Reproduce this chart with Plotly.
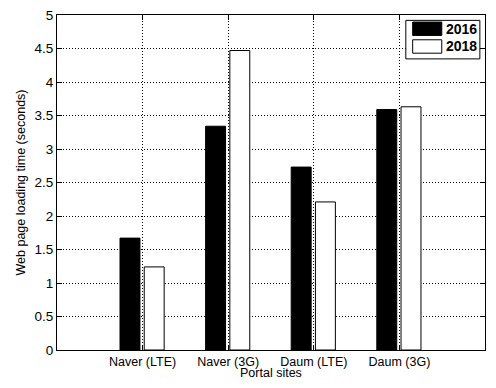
import plotly.graph_objects as go

sites = ["Naver (LTE)", "Naver (3G)", "Daum (LTE)", "Daum (3G)"]
years = ["2016", "2018"]
load_2016 = [1.67, 3.34, 2.73, 3.59]
load_2018 = [1.24, 4.47, 2.21, 3.63]
y_ticks = [0, 0.5, 1, 1.5, 2, 2.5, 3, 3.5, 4, 4.5, 5]

pos = list(range(1, len(sites) + 1))
font = "Liberation Sans, Arial, sans-serif"

fig = go.Figure()
fig.add_trace(go.Bar(x=pos, y=load_2016, name=years[0], width=0.233, offset=-0.264,
                     marker=dict(color="black", line=dict(color="black", width=1)),
                     showlegend=False))
fig.add_trace(go.Bar(x=pos, y=load_2018, name=years[1], width=0.233, offset=0.019,
                     marker=dict(color="white", line=dict(color="black", width=1)),
                     showlegend=False))

# legend drawn by hand so the swatches are wide like the original
fig.add_shape(type="rect", xref="paper", yref="paper", x0=0.815, x1=0.988, y0=0.869, y1=0.984,
              line=dict(color="black", width=1), fillcolor="white", layer="above")
sw = [(0.979, 0.939, "black"), (0.926, 0.886, "white")]
for (ya, yb, c), name in zip(sw, years):
    fig.add_shape(type="rect", xref="paper", yref="paper", x0=0.831, x1=0.899, y0=yb, y1=ya,
                  line=dict(color="black", width=1), fillcolor=c, layer="above")
    fig.add_annotation(xref="paper", yref="paper", x=0.904, y=(ya + yb) / 2, text="<b>" + name + "</b>",
                       showarrow=False, xanchor="left", yanchor="middle",
                       font=dict(family=font, size=14, color="black"))

# x title as annotation so it can sit right at the bottom edge
fig.add_annotation(xref="paper", yref="paper", x=0.5, y=-0.094, text="Portal sites",
                   showarrow=False, xanchor="center", yanchor="bottom", borderpad=0,
                   font=dict(family=font, size=12.5, color="black"))

# page body has an 8px margin, so the figure is a bit smaller than the window
fig.update_layout(
    width=480, height=372,
    margin=dict(l=49, r=3, t=7, b=30),
    paper_bgcolor="white", plot_bgcolor="white",
    font=dict(family=font, size=13.5, color="black"),
    barmode="overlay",
)
axis_style = dict(range=[0, 5], showline=True, linecolor="black", linewidth=1, mirror="ticks",
                  ticks="inside", ticklen=5, tickcolor="black", showgrid=True, gridcolor="black",
                  griddash="1px,2px", gridwidth=1, zeroline=False, automargin=False,
                  ticklabeloverflow="allow")
fig.update_xaxes(tickvals=pos, ticktext=sites, tickfont=dict(size=12.5), **axis_style)
fig.update_yaxes(tickvals=y_ticks,
                 title=dict(text="Web page loading time (seconds)", standoff=6, font=dict(size=12.5)),
                 **axis_style)

fig.write_html("out.html")
